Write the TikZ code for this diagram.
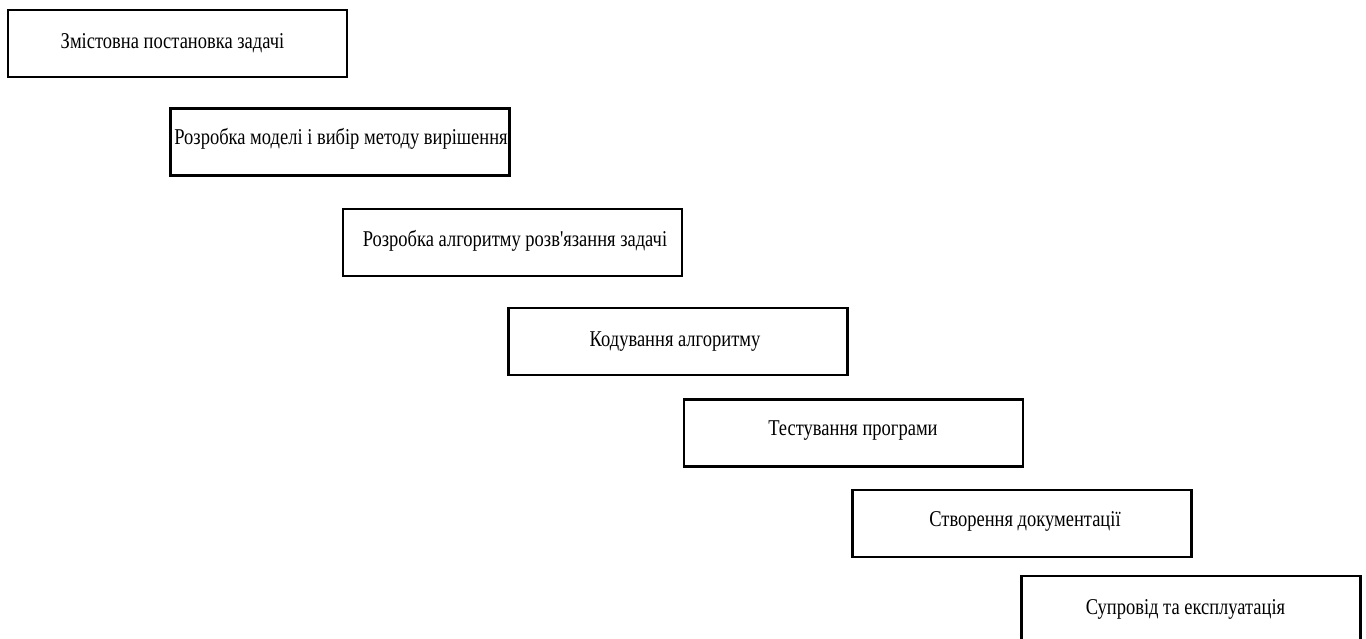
\documentclass[tikz,border=0pt]{standalone}
\usepackage{fontspec}
\newfontfamily\plainserif{Liberation Serif}
\newcommand{\stagetext}[1]{\scalebox{1}[1.22]{#1}}
\begin{document}
\begin{tikzpicture}[x=1pt,y=-1pt,
  stagebox/.style={draw=black, line width=2.5pt, fill=white, minimum width=339pt, minimum height=67pt,
    inner sep=0pt, anchor=center},
  stagelabel/.style={font=\plainserif\fontsize{18.5}{20}\selectfont, inner sep=0pt}]
\useasboundingbox (0,0) rectangle (1366,639);
\clip (0,0) rectangle (1366,639);
\fill[white] (0,0) rectangle (1366,639);
\node[stagebox] (s1) at (177.5,43.5) {};
\node[stagelabel] (t1) at (172.5,43) {\stagetext{Змістовна постановка задачі}};
\node[stagebox] (s2) at (340,142) {};
\node[stagelabel] (t2) at (341,139) {\stagetext{Розробка моделі і вибір методу вирішення}};
\node[stagebox] (s3) at (512.5,242.5) {};
\node[stagelabel] (t3) at (515,241) {\stagetext{Розробка алгоритму розв'язання задачі}};
\node[stagebox] (s4) at (678,341.5) {};
\node[stagelabel] (t4) at (675,342) {\stagetext{Кодування алгоритму}};
\node[stagebox] (s5) at (853.5,433) {};
\node[stagelabel] (t5) at (853,431) {\stagetext{Тестування програми}};
\node[stagebox] (s6) at (1022,523.5) {};
\node[stagelabel] (t6) at (1025,521) {\stagetext{Створення документації}};
\node[stagebox] (s7) at (1191,609.5) {};
\node[stagelabel] (t7) at (1185.5,609) {\stagetext{Супровід та експлуатація}};
\end{tikzpicture}
\end{document}
